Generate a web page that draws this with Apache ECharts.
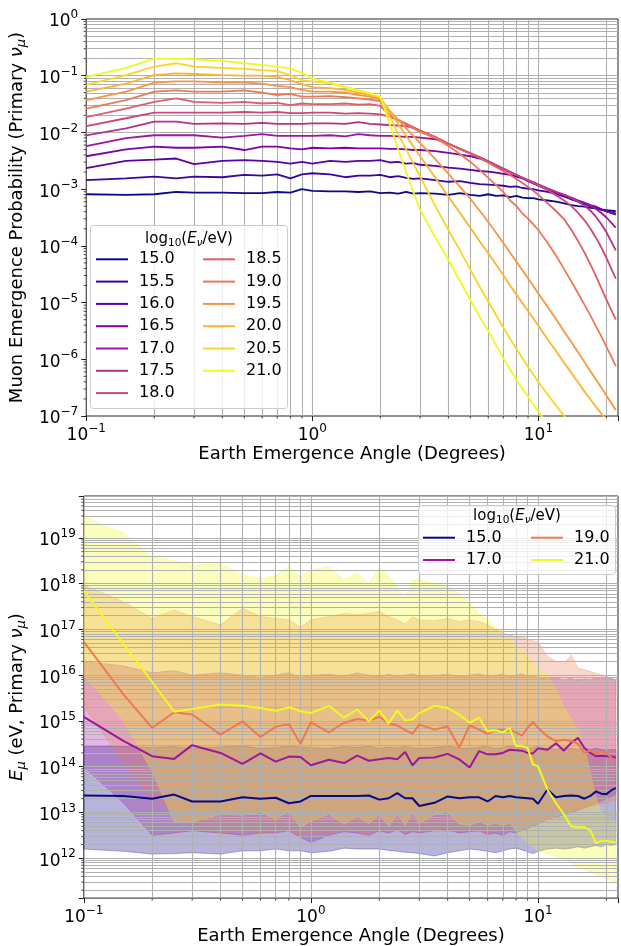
<!DOCTYPE html>
<html>
<head>
<meta charset="utf-8">
<script src="https://cdn.jsdelivr.net/npm/echarts@6/dist/echarts.min.js"></script>
<style>
  html, body { margin: 0; padding: 0; background: #fff; }
  #chart { width: 621px; height: 946px; }
</style>
</head>
<body>
<div id="chart"></div>
<script>
const FONT = 'DejaVu Sans';

// earth emergence angles (degrees), shared by both panels
const angles = [0.1, 0.15, 0.2, 0.25, 0.3, 0.4, 0.5, 0.6, 0.7, 0.8, 0.9, 1,
  1.2, 1.4, 1.6, 1.8, 2, 2.2, 2.4, 2.6, 2.8, 3,
  3.5, 4, 4.5, 5, 5.5, 6, 6.5, 7, 7.5, 8, 8.5, 9, 9.5, 10,
  11, 12, 13, 14, 15, 16, 17, 18, 19, 20, 21, 22];

// upper panel: log10 of muon emergence probability, one array per log10(E_nu/eV)
const prob150 = [-3.09,-3.10,-3.09,-3.05,-3.06,-3.06,-3.07,-3.07,-3.05,-3.06,-3.00,-3.03, -3.04,-3.04,-3.05,-3.04,-3.07, -3.06,-3.08,-3.05,-3.08,-3.07, -3.08,-3.10,-3.07,-3.10,-3.12,-3.09,-3.12,-3.11,-3.14,-3.12,-3.15,-3.16,-3.16,-3.18, -3.20,-3.22,-3.25,-3.28,-3.30,-3.31,-3.33,-3.34,-3.36,-3.37,-3.38,-3.39];
const prob155 = [-2.84,-2.81,-2.78,-2.81,-2.78,-2.79,-2.75,-2.76,-2.74,-2.81,-2.74,-2.72, -2.74,-2.79,-2.76,-2.76,-2.75, -2.79,-2.77,-2.80,-2.82,-2.81, -2.84,-2.87,-2.86,-2.89,-2.91,-2.92,-2.93,-2.94,-2.96,-2.95,-2.98,-2.99,-3.00,-3.02, -3.05,-3.09,-3.13,-3.18,-3.22,-3.26,-3.30,-3.33,-3.36,-3.39,-3.41,-3.43];
const prob160 = [-2.63,-2.50,-2.48,-2.46,-2.56,-2.50,-2.49,-2.50,-2.52,-2.55,-2.52,-2.55, -2.50,-2.52,-2.50,-2.50,-2.49, -2.53,-2.52,-2.55,-2.54,-2.57, -2.59,-2.62,-2.64,-2.66,-2.68,-2.69,-2.71,-2.73,-2.75,-2.78,-2.81,-2.86,-2.90,-2.94, -3.01,-3.07,-3.12,-3.17,-3.21,-3.25,-3.29,-3.32,-3.36,-3.39,-3.42,-3.44];
const prob165 = [-2.42,-2.30,-2.25,-2.27,-2.27,-2.25,-2.31,-2.25,-2.25,-2.28,-2.30,-2.27, -2.28,-2.27,-2.28,-2.28,-2.28, -2.29,-2.29,-2.30,-2.31,-2.31, -2.33,-2.36,-2.39,-2.42,-2.46,-2.52,-2.58,-2.64,-2.70,-2.75,-2.80,-2.85,-2.89,-2.93, -3.00,-3.06,-3.11,-3.16,-3.20,-3.24,-3.28,-3.31,-3.35,-3.38,-3.42,-3.45];
const prob170 = [-2.24,-2.10,-2.05,-2.05,-2.05,-2.09,-2.06,-2.03,-2.06,-2.06,-2.06,-2.06, -2.05,-2.07,-2.03,-2.05,-2.06, -2.06,-2.07,-2.08,-2.08,-2.09, -2.12,-2.20,-2.29,-2.37,-2.44,-2.51,-2.58,-2.64,-2.70,-2.75,-2.80,-2.84,-2.88,-2.92, -2.99,-3.05,-3.10,-3.15,-3.20,-3.24,-3.29,-3.35,-3.42,-3.50,-3.59,-3.68];
const prob175 = [-2.05,-1.93,-1.81,-1.81,-1.85,-1.84,-1.85,-1.83,-1.85,-1.85,-1.85,-1.84, -1.84,-1.85,-1.82,-1.85,-1.86, -1.87,-1.88,-1.89,-1.92,-1.97, -2.08,-2.20,-2.29,-2.37,-2.44,-2.51,-2.58,-2.64,-2.70,-2.75,-2.80,-2.84,-2.88,-2.92, -2.99,-3.05,-3.10,-3.16,-3.22,-3.29,-3.38,-3.49,-3.62,-3.76,-3.92,-4.08];
const prob180 = [-1.89,-1.75,-1.65,-1.65,-1.65,-1.65,-1.64,-1.65,-1.64,-1.66,-1.66,-1.65, -1.65,-1.67,-1.66,-1.67,-1.68, -1.72,-1.79,-1.85,-1.91,-1.97, -2.08,-2.20,-2.29,-2.37,-2.44,-2.51,-2.58,-2.64,-2.70,-2.75,-2.80,-2.85,-2.89,-2.93, -3.02,-3.11,-3.20,-3.30,-3.42,-3.55,-3.70,-3.86,-4.03,-4.21,-4.40,-4.58];
const prob185 = [-1.73,-1.58,-1.46,-1.40,-1.46,-1.48,-1.46,-1.49,-1.48,-1.52,-1.49,-1.50, -1.50,-1.49,-1.51,-1.50,-1.53, -1.70,-1.78,-1.85,-1.91,-1.97, -2.08,-2.20,-2.29,-2.37,-2.45,-2.53,-2.61,-2.68,-2.75,-2.82,-2.89,-2.96,-3.03,-3.10, -3.25,-3.39,-3.53,-3.72,-3.92,-4.12,-4.33,-4.54,-4.75,-4.95,-5.13,-5.30];
const prob190 = [-1.58,-1.43,-1.28,-1.26,-1.28,-1.28,-1.26,-1.30,-1.34,-1.32,-1.37,-1.37, -1.36,-1.38,-1.40,-1.42,-1.45, -1.68,-1.78,-1.86,-1.93,-1.99, -2.10,-2.24,-2.38,-2.52,-2.66,-2.80,-2.93,-3.05,-3.20,-3.30,-3.43,-3.52,-3.62,-3.72, -3.95,-4.18,-4.41,-4.63,-4.84,-5.04,-5.23,-5.42,-5.60,-5.78,-5.95,-6.12];
const prob195 = [-1.43,-1.28,-1.12,-1.10,-1.10,-1.12,-1.12,-1.14,-1.18,-1.20,-1.25,-1.28, -1.28,-1.30,-1.34,-1.37,-1.42, -1.62,-1.78,-1.93,-2.06,-2.19, -2.47,-2.73,-2.96,-3.17,-3.38,-3.58,-3.77,-3.95,-4.12,-4.28,-4.43,-4.57,-4.71,-4.84, -5.08,-5.30,-5.51,-5.70,-5.88,-6.05,-6.21,-6.36,-6.50,-6.64,-6.77,-6.90];
const prob200 = [-1.28,-1.14,-0.99,-0.96,-0.97,-0.99,-1.00,-1.00,-1.02,-1.08,-1.15,-1.20, -1.22,-1.25,-1.30,-1.34,-1.40, -1.62,-1.85,-2.06,-2.25,-2.42, -2.80,-3.13,-3.42,-3.68,-3.92,-4.13,-4.33,-4.52,-4.70,-4.86,-5.01,-5.15,-5.28,-5.41, -5.65,-5.86,-6.06,-6.24,-6.41,-6.57,-6.71,-6.84,-6.96,-7.07,-7.18,null];
const prob205 = [-1.16,-0.99,-0.84,-0.78,-0.84,-0.86,-0.88,-0.90,-0.92,-0.99,-1.08,-1.10, -1.13,-1.20,-1.26,-1.31,-1.38, -1.72,-2.03,-2.30,-2.55,-2.78, -3.30,-3.72,-4.08,-4.42,-4.72,-4.98,-5.22,-5.44,-5.64,-5.82,-5.98,-6.13,-6.27,-6.40, -6.62,-6.82,-7.00,-7.17,null,null,null,null,null,null,null,null];
const prob210 = [-1.02,-0.86,-0.70,-0.70,-0.71,-0.74,-0.78,-0.81,-0.84,-0.87,-0.95,-1.05, -1.12,-1.20,-1.26,-1.31,-1.37, -1.85,-2.30,-2.70,-3.05,-3.37, -3.85,-4.25,-4.62,-4.95,-5.25,-5.50,-5.75,-5.98,-6.18,-6.36,-6.52,-6.66,-6.80,-6.92, -7.15,null,null,null,null,null,null,null,null,null,null,null];

const topNames = ['15.0','15.5','16.0','16.5','17.0','17.5','18.0','18.5','19.0','19.5','20.0','20.5','21.0'];
const topColors = ['#0d0887','#3a049a','#5c01a6','#7e03a8','#9c179e','#b52f8c','#cc4778','#de5f65','#ed7953','#f89540','#fdb42f','#fad524','#f0f921'];
const topCurves = [prob150, prob155, prob160, prob165, prob170, prob175, prob180, prob185, prob190, prob195, prob200, prob205, prob210];

// lower panel: log10 of E_mu (eV): median line and band edges
const emu150 = [13.37,13.36,13.30,13.39,13.24,13.24,13.33,13.30,13.32,13.20,13.24,13.36, 13.36,13.36,13.36,13.37,13.28, 13.31,13.42,13.31,13.31,13.14, 13.21,13.35,13.31,13.33,13.33,13.24,13.36,13.33,13.36,13.33,13.32,13.31,13.30,13.19, 13.50,13.33,13.36,13.37,13.36,13.30,13.36,13.46,13.41,13.40,13.48,13.53];
const emu170 = [15.09,14.56,14.23,14.17,14.47,14.30,14.06,14.29,14.11,14.22,14.21,14.03, 14.15,14.08,14.24,14.13,14.16, 14.19,14.16,14.32,14.03,14.19, 14.20,14.28,14.16,13.98,14.34,14.27,14.27,14.30,14.37,14.36,14.35,14.30,14.29,14.40, 14.37,14.51,14.35,14.52,14.63,14.41,14.30,14.23,14.24,14.23,14.22,14.20];
const emu190 = [16.73,15.57,14.85,15.19,15.14,14.70,14.99,14.65,14.87,14.93,14.50,14.97, 14.75,14.96,15.04,15.01,15.09, 14.95,14.90,14.80,14.72,14.92, 14.81,14.88,14.42,14.90,14.81,14.72,14.80,14.80,14.81,14.75,14.68,14.85,14.97,14.85, 14.66,14.56,14.59,14.56,14.50,14.30,14.36,14.27,14.33,14.30,14.20,14.10];
const emu210 = [17.84,16.67,15.85,15.20,15.26,15.36,15.33,15.28,15.22,15.30,15.21,15.17, 15.33,15.07,15.25,14.99,15.23, 14.94,15.23,15.01,15.03,15.17, 15.33,15.28,15.14,14.96,15.07,14.77,14.80,14.75,14.85,14.45,14.45,14.41,14.05,14.01, 13.50,13.20,12.96,12.70,12.67,12.68,12.60,12.33,12.38,12.38,12.36,12.34];

const band150Lo = [12.20,12.15,12.09,12.10,12.12,12.09,12.16,12.16,12.20,12.16,12.16,12.12, 12.15,12.22,12.20,12.20,12.20, 12.17,12.15,12.13,12.12,12.10, 12.05,12.12,12.16,12.20,12.18,12.15,12.12,12.16,12.20,12.22,12.18,12.14,12.10,12.15, 12.20,12.22,12.20,12.22,12.25,12.22,12.25,12.28,12.25,12.30,12.28,12.30];
const band150Hi = [14.45,14.45,14.42,14.44,14.40,14.43,14.45,14.40,14.42,14.45,14.43,14.42, 14.40,14.44,14.42,14.45,14.40, 14.43,14.41,14.44,14.42,14.40, 14.42,14.45,14.41,14.40,14.43,14.44,14.40,14.42,14.45,14.43,14.41,14.40,14.42,14.44, 14.40,14.38,14.42,14.40,14.38,14.40,14.37,14.40,14.38,14.36,14.38,14.37];
const band170Lo = [14.00,13.20,12.50,12.55,12.60,12.55,12.50,12.55,12.55,12.60,12.45,12.35, 12.50,12.58,12.55,12.50,12.60, 12.55,12.62,12.52,12.58,12.55, 12.60,12.62,12.55,12.58,12.60,12.52,12.55,12.50,12.58,12.55,12.60,12.65,12.70,12.75, 12.85,12.90,12.95,13.00,13.05,13.10,13.15,13.20,13.25,13.30,13.35,13.40];
const band170Hi = [16.30,16.20,16.05,16.10,16.00,16.05,16.00,15.95,16.00,16.05,15.95,16.00, 16.02,15.98,16.05,16.00,15.97, 16.02,15.98,16.00,16.03,15.98, 16.00,16.02,15.97,16.00,16.03,15.98,16.00,16.02,15.97,16.00,16.03,15.98,16.00,15.95, 15.92,15.95,15.90,15.93,15.88,15.92,15.90,15.95,15.92,15.97,15.93,15.90];
const band190Lo = [15.30,14.10,13.30,13.05,12.70,12.55,12.60,12.55,12.58,12.60,12.50,12.55, 12.55,12.60,12.58,12.55,12.62, 12.58,12.60,12.55,12.62,12.58, 12.60,12.58,12.62,12.60,12.58,12.55,12.60,12.62,12.58,12.60,12.65,12.70,12.75,12.80, 12.90,12.95,13.00,13.05,13.10,13.10,13.15,13.15,13.20,13.20,13.25,13.25];
const band190Hi = [17.97,17.60,17.24,17.42,17.28,17.10,17.46,17.28,17.24,17.21,17.05,17.21, 17.28,17.35,17.32,17.35,17.39, 17.28,17.21,17.12,17.27,17.21, 17.19,17.24,17.17,17.21,17.17,17.10,16.99,16.92,16.88,16.84,16.85,16.78,16.75,16.73, 16.41,16.30,16.26,16.44,16.15,16.12,16.08,16.04,16.00,15.95,15.92,15.90];
const band210Lo = [16.00,15.00,13.90,12.80,12.79,12.96,12.94,13.00,12.85,13.03,12.67,12.81, 12.96,12.74,12.92,12.75,12.96, 12.70,12.96,12.72,13.00,12.75, 12.96,13.00,12.75,12.72,12.80,12.72,12.76,12.72,12.76,12.60,12.45,12.35,12.25,12.15, 12.10,12.05,12.00,11.90,11.80,11.75,11.70,11.65,11.60,11.55,11.52,11.50];
const band210Hi = [19.46,19.10,18.59,18.50,18.40,18.44,18.19,18.12,18.17,18.38,18.15,18.30, 18.37,18.08,18.24,18.00,18.36, 18.15,17.93,17.68,18.08,18.09, 18.00,17.93,17.79,17.57,17.35,17.21,17.06,16.95,16.80,16.65,16.55,16.40,16.25,16.15, 16.00,15.70,15.30,15.05,14.80,14.40,13.85,13.30,13.00,12.90,12.85,12.80];

const botNames = ['15.0','17.0','19.0','21.0'];
const botColors = ['#0d0887','#9c179e','#ed7953','#f0f921'];
const botLines = [emu150, emu170, emu190, emu210];
const botBands = [[band150Lo, band150Hi], [band170Lo, band170Hi], [band190Lo, band190Hi], [band210Lo, band210Hi]];

const X_MIN = 0.1, X_MAX = 22.5;
const Y_TOP = [1e-7, 1];
const Y_BOT = [Math.pow(10, 11.128), Math.pow(10, 19.915)];

function points(curve) {
  const out = [];
  angles.forEach((a, i) => { if (curve[i] != null) out.push([a, Math.pow(10, curve[i])]); });
  return out;
}

function isDecade(v) {
  const e = Math.log10(v);
  return Math.abs(e - Math.round(e)) < 1e-6;
}

function powerLabel(v) {
  if (!isDecade(v)) return '';
  const r = Math.round(Math.log10(v));
  return '{b|10}{s|' + (r < 0 ? '\u2212' + (-r) : r) + '}';
}

const labelRich = {
  b: { fontFamily: FONT, fontSize: 17, color: '#000', padding: [6, 0, 0, 0] },
  s: { fontFamily: FONT, fontSize: 12, color: '#000', padding: [0, 0, 8, 0] }
};
const nameRich = {
  i: { fontFamily: FONT, fontSize: 18, fontStyle: 'italic', color: '#000' },
  s: { fontFamily: FONT, fontSize: 13, fontStyle: 'italic', color: '#000', padding: [9, 0, 0, 0] }
};

function logAxis(gridIndex, min, max, name, gap, isX) {
  return {
    type: 'log', logBase: 10, gridIndex: gridIndex, min: min, max: max,
    name: name, nameLocation: 'middle', nameGap: gap,
    nameTextStyle: { fontFamily: FONT, fontSize: 18, color: '#000', rich: nameRich },
    axisLine: { show: false },
    axisTick: { show: true, length: 5, lineStyle: { color: '#222', width: 1 } },
    axisLabel: { formatter: powerLabel, margin: isX ? 5 : 8, rich: labelRich, color: '#000' },
    splitLine: { show: false },
    minorTick: { show: false }
  };
}

// grid line positions (matplotlib style major + minor on log scale)
const xGrid = [0.2, 0.3, 0.4, 0.5, 0.6, 0.7, 0.8, 0.9, 1, 2, 3, 4, 5, 6, 7, 8, 9, 10, 20];
function logGrid(lo, hi) {
  const out = [];
  for (let e = Math.floor(Math.log10(lo)); e <= Math.ceil(Math.log10(hi)); e++) {
    for (let k = 1; k < 10; k++) {
      const v = k * Math.pow(10, e);
      if (v > lo * 1.0001 && v < hi * 0.9999) out.push(v);
    }
  }
  return out;
}

function gridSeries(idx, ys) {
  return {
    type: 'line', name: 'grid' + idx, xAxisIndex: idx, yAxisIndex: idx, data: [], silent: true, z: 2,
    markLine: {
      silent: true, animation: false, symbol: ['none', 'none'], label: { show: false }, z: 2,
      lineStyle: { color: '#b0b0b0', width: 1.1, type: 'solid', opacity: 1 },
      emphasis: { disabled: true },
      data: xGrid.map(v => ({ xAxis: v })).concat(ys.map(v => ({ yAxis: v })))
    }
  };
}

// short minor tick marks outside the left and bottom spines
function minorTickSeries(idx, ys, yRange) {
  return {
    type: 'custom', name: 'minor' + idx, xAxisIndex: idx, yAxisIndex: idx, silent: true, z: 4,
    clip: false, animation: false,
    data: [[1, Math.sqrt(yRange[0] * yRange[1])]],
    renderItem: function (params, api) {
      const kids = [];
      const base = api.coord([X_MIN, yRange[0]]);
      xGrid.filter(v => !isDecade(v)).forEach(v => {
        const px = api.coord([v, yRange[0]])[0];
        kids.push({ type: 'line', shape: { x1: px, y1: base[1], x2: px, y2: base[1] + 2.6 }, style: { stroke: '#222', lineWidth: 0.8 } });
      });
      ys.filter(v => !isDecade(v)).forEach(v => {
        const py = api.coord([X_MIN, v])[1];
        kids.push({ type: 'line', shape: { x1: base[0] - 2.6, y1: py, x2: base[0], y2: py }, style: { stroke: '#222', lineWidth: 0.8 } });
      });
      return { type: 'group', children: kids };
    }
  };
}

const yGridTop = logGrid(Y_TOP[0], Y_TOP[1]);
const yGridBot = logGrid(Y_BOT[0], Y_BOT[1]);

const series = [];
series.push(gridSeries(0, yGridTop));
series.push(gridSeries(1, yGridBot));
series.push(minorTickSeries(0, yGridTop, Y_TOP));
series.push(minorTickSeries(1, yGridBot, Y_BOT));

topCurves.forEach((curve, k) => {
  series.push({
    type: 'line', name: topNames[k], xAxisIndex: 0, yAxisIndex: 0, z: 3,
    showSymbol: false, symbol: 'none', animation: false, clip: true, color: topColors[k],
    lineStyle: { width: 1.8, color: topColors[k] },
    data: points(curve)
  });
});

botBands.forEach((band, k) => {
  const lo = band[0], hi = band[1], c = botColors[k];
  series.push({
    type: 'custom', name: botNames[k] + ' band', xAxisIndex: 1, yAxisIndex: 1, z: 1, silent: true,
    animation: false,
    data: angles.map((a, i) => [a, Math.pow(10, lo[i]), Math.pow(10, hi[i])]),
    encode: { x: 0, y: [1, 2] },
    renderItem: function (params, api) {
      if (params.dataIndex !== 0) return;
      const pts = [];
      for (let i = 0; i < angles.length; i++) pts.push(api.coord([angles[i], Math.pow(10, hi[i])]));
      for (let i = angles.length - 1; i >= 0; i--) pts.push(api.coord([angles[i], Math.pow(10, lo[i])]));
      return { type: 'polygon', shape: { points: pts }, style: { fill: c, stroke: c, lineWidth: 1, opacity: 0.3 } };
    }
  });
});

botLines.forEach((curve, k) => {
  series.push({
    type: 'line', name: botNames[k], xAxisIndex: 1, yAxisIndex: 1, z: 3,
    showSymbol: false, symbol: 'none', animation: false, clip: true, color: botColors[k],
    lineStyle: { width: 2, color: botColors[k] },
    data: points(curve)
  });
});

function legendCol(names, left, top) {
  return {
    data: names, left: left, top: top, orient: 'vertical', padding: 0, itemGap: 6.3,
    itemWidth: 32, itemHeight: 2, icon: 'rect', selectedMode: false, z: 60,
    textStyle: { fontFamily: FONT, fontSize: 16, color: '#000', lineHeight: 16, padding: [0, 0, 0, 6] }
  };
}

const titleRich = {
  a: { fontFamily: FONT, fontSize: 15, fill: '#000' },
  b: { fontFamily: FONT, fontSize: 10.5, fill: '#000', padding: [7, 0, 0, 0] },
  i: { fontFamily: FONT, fontSize: 15, fontStyle: 'italic', fill: '#000' },
  c: { fontFamily: FONT, fontSize: 10.5, fontStyle: 'italic', fill: '#000', padding: [7, 0, 0, 0] }
};
const legendTitle = '{a|log}{b|10}{a|(}{i|E}{c|\u03bd}{a|/eV)}';

const option = {
  backgroundColor: '#fff',
  animation: false,
  grid: [
    { left: 82, right: -1, top: 19, bottom: 530, show: true, borderColor: '#222', borderWidth: 1, backgroundColor: 'transparent' },
    { left: 82, right: -1, top: 496, bottom: 47, show: true, borderColor: '#222', borderWidth: 1, backgroundColor: 'transparent' }
  ],
  xAxis: [
    logAxis(0, X_MIN, X_MAX, 'Earth Emergence Angle (Degrees)', 27, true),
    logAxis(1, X_MIN, X_MAX, 'Earth Emergence Angle (Degrees)', 27, true)
  ],
  yAxis: [
    logAxis(0, Y_TOP[0], Y_TOP[1], 'Muon Emergence Probability (Primary {i|\u03bd}{s|\u03bc})', 50, false),
    logAxis(1, Y_BOT[0], Y_BOT[1], '{i|E}{s|\u03bc} (eV, Primary {i|\u03bd}{s|\u03bc})', 50, false)
  ],
  legend: [
    legendCol(['15.0','15.5','16.0','16.5','17.0','17.5','18.0'], 96, 251.3),
    legendCol(['18.5','19.0','19.5','20.0','20.5','21.0'], 203, 251.3),
    legendCol(['15.0','17.0'], 423, 529.7),
    legendCol(['19.0','21.0'], 531, 529.7)
  ],
  graphic: [
    { type: 'rect', z: 50, silent: true, shape: { x: 90.5, y: 225.5, width: 197, height: 183, r: 3 },
      style: { fill: 'rgba(255,255,255,0.8)', stroke: '#cccccc', lineWidth: 1 } },
    { type: 'rect', z: 50, silent: true, shape: { x: 418.5, y: 505.5, width: 197, height: 69, r: 3 },
      style: { fill: 'rgba(255,255,255,0.8)', stroke: '#cccccc', lineWidth: 1 } },
    { type: 'text', z: 60, silent: true, x: 189, y: 239.5,
      style: { text: legendTitle, rich: titleRich, align: 'center', verticalAlign: 'middle', fill: '#000' } },
    { type: 'text', z: 60, silent: true, x: 517, y: 516.5,
      style: { text: legendTitle, rich: titleRich, align: 'center', verticalAlign: 'middle', fill: '#000' } }
  ],
  series: series
};

const chart = echarts.init(document.getElementById('chart'));
chart.setOption(option);
</script>
</body>
</html>
